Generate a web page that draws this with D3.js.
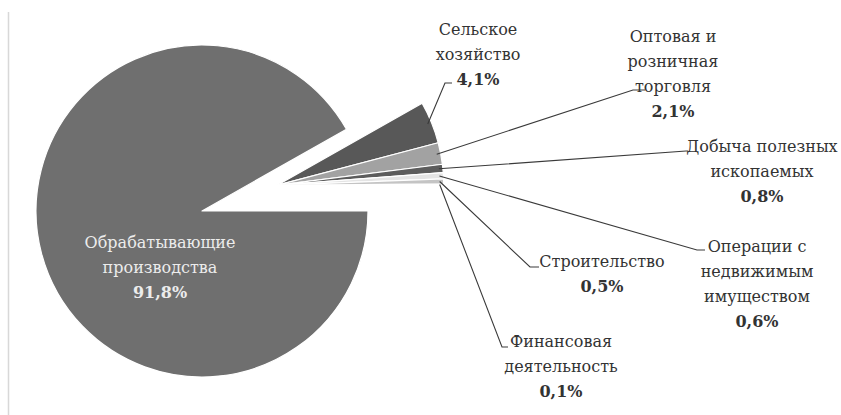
<!DOCTYPE html>
<html><head><meta charset="utf-8">
<script src="https://cdn.jsdelivr.net/npm/d3@7"></script>
<style>html,body{margin:0;padding:0;background:#fff;}svg{display:block;}</style>
</head><body>
<svg id="chart" width="841" height="415"></svg>
<script>
// ---- data ----
const categories = [
  "Обрабатывающие производства",
  "Сельское хозяйство",
  "Оптовая и розничная торговля",
  "Добыча полезных ископаемых",
  "Операции с недвижимым имуществом",
  "Строительство",
  "Финансовая деятельность"
];
const values = [91.8, 4.1, 2.1, 0.8, 0.6, 0.5, 0.1];
const valueLabels = ["91,8%", "4,1%", "2,1%", "0,8%", "0,6%", "0,5%", "0,1%"];
const labelLines = [
  ["Обрабатывающие", "производства"],
  ["Сельское", "хозяйство"],
  ["Оптовая и", "розничная", "торговля"],
  ["Добыча полезных", "ископаемых"],
  ["Операции с", "недвижимым", "имуществом"],
  ["Строительство"],
  ["Финансовая", "деятельность"]
];

// ---- layout / style ----
const colors = ["#6f6f6f", "#585858", "#a2a2a2", "#5c5c5c", "#e4e4e4", "#c4c4c4", "#8e8e8e"];
const cx = 202, cy = 211, R = 166;
const explode = [0, 80, 80, 80, 80, 80, 80]; // distance of detached group
const explodeAngle = Math.PI / 2 - 0.33;        // d3 angle of group direction
// label anchor: centre x, first baseline y, leader end (x,y), elbow length
const labelPos = [
  {x: 160, y: 248},
  {x: 478, y: 35, lx: 445, ly: 83, hx: 452},
  {x: 673, y: 42, lx: 633, ly: 90, hx: 645},
  {x: 762, y: 152, lx: 686, ly: 151, hx: 688},
  {x: 757, y: 252, lx: 697, ly: 250, hx: 705},
  {x: 602, y: 267, lx: 530, ly: 267, hx: 539},
  {x: 561, y: 347, lx: 502, ly: 347, hx: 508}
];
const lineH = 25;
const fontFam = "DejaVu Serif";

const svg = d3.select("#chart");
svg.append("line").attr("x1", 8.5).attr("x2", 8.5).attr("y1", 12).attr("y2", 415)
  .attr("stroke", "#d8d8d8").attr("stroke-width", 1.5);

const data = categories.map((c, i) => ({name: c, value: values[i], i}));
const pie = d3.pie().value(d => d.value).sort(null)
  .startAngle(Math.PI / 2).endAngle(Math.PI / 2 + 2 * Math.PI);
const arcs = pie(data);
const arc = d3.arc().innerRadius(0).outerRadius(R);

function offset(i) {
  const d = explode[i];
  return [d * Math.sin(explodeAngle), -d * Math.cos(explodeAngle)];
}

const g = svg.append("g").attr("transform", `translate(${cx},${cy})`);
g.selectAll("path").data(arcs).join("path")
  .attr("transform", d => { const o = offset(d.index); return `translate(${o[0]},${o[1]})`; })
  .attr("d", arc)
  .attr("fill", d => colors[d.index])
  .attr("stroke", "#fff").attr("stroke-width", 1.2).attr("stroke-linejoin", "round");

// leader lines
arcs.forEach(d => {
  if (d.index === 0) return;
  const p = labelPos[d.index];
  const o = offset(d.index);
  const mid = (d.startAngle + d.endAngle) / 2;
  const sx = cx + o[0] + (R - 4) * Math.sin(mid);
  const sy = cy + o[1] - (R - 4) * Math.cos(mid);
  svg.append("polyline")
    .attr("points", `${sx},${sy} ${p.lx},${p.ly} ${p.hx},${p.ly}`)
    .attr("fill", "none").attr("stroke", "#3a3a3a").attr("stroke-width", 1.1);
});

// labels
arcs.forEach(d => {
  const i = d.index, p = labelPos[i];
  const t = svg.append("text").attr("text-anchor", "middle")
    .style("font-family", fontFam).attr("font-size", 16)
    .attr("fill", i === 0 ? "#ececec" : "#333");
  labelLines[i].forEach((ln, k) => {
    t.append("tspan").attr("x", p.x).attr("y", p.y + k * lineH).text(ln);
  });
  t.append("tspan").attr("x", p.x).attr("y", p.y + labelLines[i].length * lineH)
    .attr("font-weight", "bold").text(valueLabels[i]);
});
</script>
</body></html>
